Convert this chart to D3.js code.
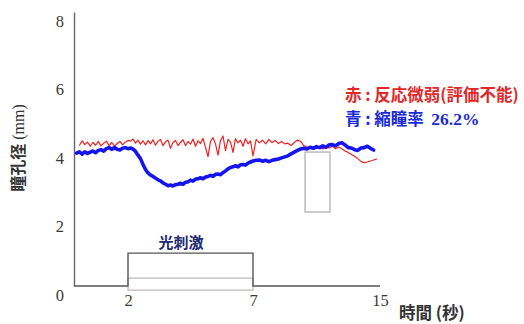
<!DOCTYPE html>
<html><head><meta charset="utf-8">
<script src="https://cdn.jsdelivr.net/npm/d3@7"></script>
<style>html,body{margin:0;padding:0;background:#fff;}svg{display:block;}</style>
</head><body>
<script>
// ---- data ----
const timesA = d3.range(1, 71).map(i => i / 10);      // 0.1 .. 7.0 s
const timesB = d3.range(36, 75).map(i => i / 5);      // 7.2 .. 14.8 s
const times = timesA.concat(timesB);

const redValues = [null,
  4.10,4.24,4.13,4.20,4.08,4.19,4.11,4.22,4.09,4.17,4.23,4.10,4.19,4.08,4.16,4.22,4.12,4.20,4.25,
  4.23,4.29,4.17,4.26,4.14,4.24,4.12,4.25,4.15,4.27,
  4.11,4.23,4.28,4.10,4.21,4.26,4.02,4.19,4.25,4.10,
  4.19,4.27,4.10,4.22,4.14,4.29,4.08,4.24,4.16,4.31,
  4.05,3.78,4.22,4.33,4.15,3.82,4.25,4.38,3.95,4.28,
  4.20,3.90,4.30,4.18,4.26,4.08,4.30,4.15,4.24,3.80,
  4.28,4.18,4.26,4.15,4.28,4.19,4.25,4.16,4.22,4.15,
  4.17,4.10,4.19,4.26,4.22,4.10,4.06,4.02,4.07,4.01,
  4.06,4.00,4.07,4.03,4.08,4.01,4.06,4.01,3.94,3.90,
  3.84,3.79,3.72,3.64,3.60,3.62,3.65,3.68,3.71];

const blueValues = [
  3.88,3.92,3.85,3.92,3.87,3.91,3.94,3.89,3.96,3.98,3.94,4.01,4.04,3.99,4.04,3.99,3.97,4.02,4.04,4.01,
  4.03,4.00,3.93,3.82,3.72,3.55,3.40,3.30,3.24,3.20,
  3.15,3.10,3.07,3.01,2.97,2.93,2.95,2.92,2.96,2.97,
  3.00,2.97,3.03,3.04,3.09,3.06,3.12,3.13,3.16,3.13,
  3.18,3.20,3.23,3.20,3.26,3.27,3.25,3.31,3.36,3.42,
  3.46,3.48,3.51,3.48,3.54,3.55,3.53,3.59,3.62,3.65,
  3.67,3.68,3.64,3.67,3.63,3.67,3.69,3.71,3.74,3.77,
  3.80,3.86,3.91,3.96,4.00,4.02,4.00,4.05,4.02,4.07,
  4.04,4.09,4.05,4.12,4.13,4.09,4.16,4.18,4.12,4.04,
  4.03,3.98,3.96,4.03,4.04,4.08,4.02,3.97, null];

const stimTimes = [0, 2, 2, 7, 7, 15];
const stimLevels = [0, 0, 0.96, 0.96, 0, 0];
const stimBand = [2, 7, -0.12, 0.23];        // t0, t1, v0, v1
const markerBox = [10.28, 11.85, 2.16, 3.91]; // t0, t1, v0, v1

const xTicks = [2, 7, 15];
const yTicks = [0, 2, 4, 6, 8];
const yTitle = "瞳孔径";
const yUnit = " (mm)";
const xTitle = "時間 (秒)";
const stimLabel = "光刺激";
const legendRed = "赤 : 反応微弱(評価不能)";
const legendBlueA = "青 : 縮瞳率  ";
const legendBlueB = "26.2%";

// ---- drawing ----
const W = 524, H = 324;
const svg = d3.select("body").append("svg").attr("width", W).attr("height", H);

const x = d3.scaleLinear().domain([0, 2, 7, 15]).range([74, 128, 253, 380]);
const y = d3.scaleLinear().domain([0, 8]).range([286, 12]);

const serif = "'Liberation Serif','DejaVu Serif',serif";
const cjk = "'Noto Sans CJK JP','Noto Sans',sans-serif";

// y axis
const ya = svg.append("g").attr("transform", `translate(${x(0)},0)`)
  .call(d3.axisLeft(y).tickValues(yTicks).tickSize(0).tickSizeOuter(0).tickPadding(10));
ya.select(".domain").attr("stroke", "#666").attr("stroke-width", 1.4);
ya.selectAll("text").attr("y", 9).attr("font-family", serif).attr("font-size", 16.5).attr("fill", "#3a3a3a");

// x axis labels
const xa = svg.append("g").attr("transform", `translate(0,${y(0)})`)
  .call(d3.axisBottom(x).tickValues(xTicks).tickSize(0).tickPadding(8).tickFormat(d3.format("d")));
xa.select(".domain").remove();
xa.selectAll("text").attr("font-family", serif).attr("font-size", 16.5).attr("fill", "#3a3a3a");

// stimulus light band
svg.append("rect")
  .attr("x", x(stimBand[0])).attr("width", x(stimBand[1]) - x(stimBand[0]))
  .attr("y", y(stimBand[3])).attr("height", y(stimBand[2]) - y(stimBand[3]))
  .attr("fill", "none").attr("stroke", "#aaa").attr("stroke-width", 1);

// stimulus step trace (acts as x baseline)
const stim = stimTimes.map((t, i) => [t, stimLevels[i]]);
svg.append("path").datum(stim)
  .attr("d", d3.line().x(d => x(d[0])).y(d => y(d[1])))
  .attr("fill", "none").attr("stroke", "#555").attr("stroke-width", 1.4);

// marker box
svg.append("rect")
  .attr("x", x(markerBox[0])).attr("width", x(markerBox[1]) - x(markerBox[0]))
  .attr("y", y(markerBox[3])).attr("height", y(markerBox[2]) - y(markerBox[3]))
  .attr("fill", "none").attr("stroke", "#bbb").attr("stroke-width", 1.5);

// series
const line = d3.line().defined(d => d[1] != null).x(d => x(d[0])).y(d => y(d[1]));
svg.append("path").datum(times.map((t, i) => [t, redValues[i]]))
  .attr("d", line).attr("fill", "none").attr("stroke", "#f02020")
  .attr("stroke-width", 1.2).attr("stroke-linejoin", "round");
svg.append("path").datum(times.map((t, i) => [t, blueValues[i]]))
  .attr("d", line).attr("fill", "none").attr("stroke", "#1414f0")
  .attr("stroke-width", 3.6).attr("stroke-linejoin", "round").attr("stroke-linecap", "round");

// y title
const yt = svg.append("text").attr("transform", "translate(24,148) rotate(-90)")
  .attr("text-anchor", "middle").attr("fill", "#333").attr("font-size", 16);
yt.append("tspan").attr("font-family", cjk).attr("font-weight", "bold").text(yTitle);
yt.append("tspan").attr("font-family", serif).text(yUnit);

// x title
svg.append("text").attr("x", 399).attr("y", 319).attr("font-family", cjk)
  .attr("font-weight", "bold").attr("font-size", 16.5).attr("fill", "#333").text(xTitle);

// stimulus label
svg.append("text").attr("x", 181).attr("y", 248).attr("text-anchor", "middle")
  .attr("font-family", cjk).attr("font-weight", "bold").attr("font-size", 15)
  .attr("fill", "#222a70").text(stimLabel);

// legend
svg.append("text").attr("x", 345).attr("y", 101).attr("font-family", cjk)
  .attr("font-weight", "bold").attr("font-size", 16.5).attr("fill", "#e02828").text(legendRed);
const lb = svg.append("text").attr("x", 345).attr("y", 125).attr("font-weight", "bold")
  .attr("font-size", 16.5).attr("fill", "#1a2bd6").attr("xml:space", "preserve");
lb.append("tspan").attr("font-family", cjk).text(legendBlueA);
lb.append("tspan").attr("font-family", serif).attr("font-size", 17.5).text(legendBlueB);
</script>
</body></html>
